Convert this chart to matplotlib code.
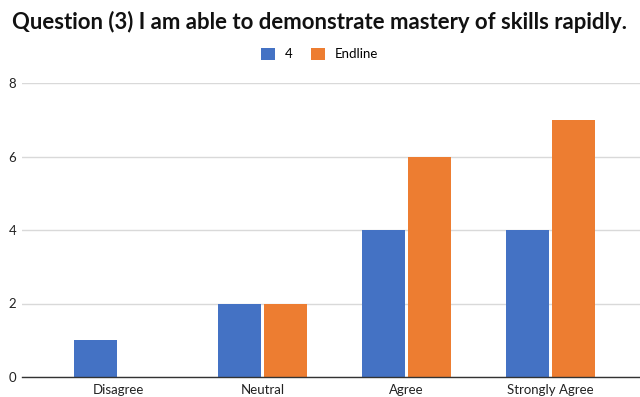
import matplotlib.pyplot as plt
import numpy as np

categories = ['Disagree', 'Neutral', 'Agree', 'Strongly Agree']
baseline = [1, 2, 4, 4]
endline = [0, 2, 6, 7]
series_names = ['4', 'Endline']

blue = '#4472c4'
orange = '#ed7d31'

plt.rcParams['font.family'] = ['Lato', 'DejaVu Sans']

fig = plt.figure(figsize=(6.4, 3.97), dpi=100)
ax = fig.add_axes([22 / 640, 20 / 397, 618 / 640, 294 / 397])

x = np.arange(len(categories))
w = 0.30
gap = 0.011
ax.bar(x - w / 2 - gap, baseline, w, color=blue, label=series_names[0], zorder=3)
ax.bar(x + w / 2 + gap, endline, w, color=orange, label=series_names[1], zorder=3)

ax.set_xlim(-0.67, 3.62)
ax.set_ylim(0, 8)
ax.set_yticks([0, 2, 4, 6, 8])
ax.set_xticks(x)
ax.set_xticklabels(categories)
ax.yaxis.grid(True, color='#d9d9d9', linewidth=1, zorder=0)
ax.tick_params(length=0, labelsize=9.5, colors='#222222', pad=4)
ax.tick_params(axis='x', pad=5)
for side in ['top', 'right', 'left']:
    ax.spines[side].set_visible(False)
ax.spines['bottom'].set_color('#333333')
ax.spines['bottom'].set_linewidth(1)
ax.spines['bottom'].set_zorder(4)

fig.text(0.5, 0.945, 'Question (3) I am able to demonstrate mastery of skills rapidly.',
         ha='center', va='center', fontsize=15.9, fontweight='bold', color='#111111')
fig.legend(loc='center', bbox_to_anchor=(0.5, 0.864), ncol=2, frameon=False,
           fontsize=9.5, handlelength=1, handleheight=1, columnspacing=1.4, handletextpad=0.8)

fig.savefig('out.png', dpi=100)
